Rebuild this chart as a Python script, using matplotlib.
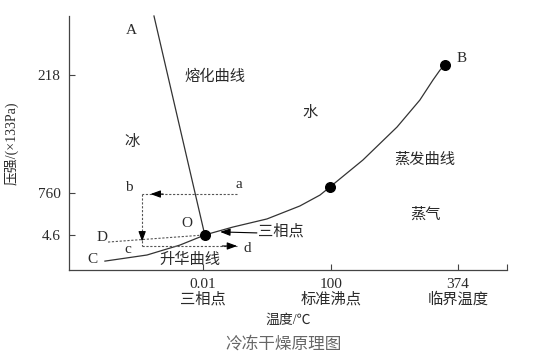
import matplotlib
matplotlib.use("Agg")
import matplotlib.pyplot as plt

plt.rcParams['font.family'] = ['Liberation Serif', 'Noto Sans CJK SC', 'DejaVu Sans']

# ---- data (nominal diagram coordinates, 0..100 on each axis) ----
xtick_pos = [30.6, 59.8, 88.8, 100.0]
xtick_labels = ["0.01\n三相点", "100\n标准沸点", "374\n临界温度", ""]
ytick_pos = [76.8, 30.3, 13.8]
ytick_labels = ["218", "760", "4.6"]

melt_x = [19.4, 31.0]
melt_y = [100.0, 13.8]
evap_x = [31.0, 37.4, 45.2, 52.7, 57.3, 59.6, 67.1, 74.9, 80.1, 83.1, 84.7, 85.8]
evap_y = [13.8, 16.9, 20.1, 25.2, 29.5, 32.7, 43.3, 56.3, 66.9, 74.8, 78.7, 80.7]
subl_x = [8.2, 17.8, 25.3, 29.9, 31.0]
subl_y = [3.5, 5.9, 9.8, 13.0, 13.8]
dots_x = [31.0, 59.6, 85.8]
dots_y = [13.8, 32.7, 80.7]

# dashed path a -> b -> c -> d, and D line
ab_x = [38.4, 16.7]; ab_y = [29.9, 29.9]
bc_x = [16.7, 16.7]; bc_y = [29.9, 9.45]
cd_x = [16.7, 38.4]; cd_y = [9.45, 9.45]
dD_x = [8.9, 31.0]; dD_y = [11.0, 13.8]

labels = [
    ("A", 14.2, 94.1), ("B", 89.7, 83.1), ("C", 5.3, 4.3), ("D", 7.5, 12.6),
    ("a", 38.8, 33.5), ("b", 13.7, 32.3), ("c", 13.5, 7.9), ("d", 40.6, 8.3),
    ("O", 26.9, 18.5),
    ("熔化曲线", 33.3, 76.0), ("冰", 14.4, 50.4), ("水", 55.0, 61.8),
    ("蒸发曲线", 81.3, 43.3), ("蒸气", 81.3, 22.0), ("升华曲线", 27.6, 3.9),
]

ink = "#2a2a2a"

fig = plt.figure(figsize=(5.38, 3.63), dpi=100)
ax = fig.add_axes([69/538, 1-270/363, 438/538, 254/363])
ax.set_xlim(0, 100)
ax.set_ylim(0, 100)

for s in ["top", "right"]:
    ax.spines[s].set_visible(False)
for s in ["left", "bottom"]:
    ax.spines[s].set_color("#444444")
    ax.spines[s].set_linewidth(0.9)

ax.set_xticks(xtick_pos)
ax.set_xticklabels(xtick_labels, fontsize=11, color=ink, linespacing=1.05)
ax.set_yticks(ytick_pos)
ax.set_yticklabels(ytick_labels, fontsize=11, color=ink)
ax.tick_params(direction="in", length=4, width=0.8, color="#444444")
ax.tick_params(axis="x", pad=6)
ax.tick_params(axis="y", pad=6)

ax.set_ylabel("压强/(×133Pa)", fontsize=10, color=ink)
ax.yaxis.set_label_coords(-0.115, 0.5)

# curves
ax.plot(melt_x, melt_y, color="#333333", lw=0.9, clip_on=False)
ax.plot(evap_x, evap_y, color="#333333", lw=0.9)
ax.plot(subl_x, subl_y, color="#333333", lw=0.9)
ax.scatter(dots_x, dots_y, s=48, color="black", zorder=5)

# dashed path
dkw = dict(color="#555555", lw=0.8, ls=(0, (2, 1.5)))
ax.plot(ab_x, ab_y, **dkw)
ax.plot(bc_x, bc_y, **dkw)
ax.plot(cd_x, cd_y, **dkw)
ax.plot(dD_x, dD_y, **dkw)

akw = dict(arrowstyle="-|>,head_length=0.6,head_width=0.22", color="black", lw=0.8,
           shrinkA=0, shrinkB=0)
ax.annotate("", xy=(18.6, 29.9), xytext=(21.5, 29.9), arrowprops=akw)
ax.annotate("", xy=(16.7, 11.2), xytext=(16.7, 14.5), arrowprops=akw)
ax.annotate("", xy=(38.4, 9.45), xytext=(35.0, 9.45), arrowprops=akw)
ax.annotate("", xy=(34.5, 15.0), xytext=(42.9, 14.6), arrowprops=akw)
ax.text(43.2, 15.4, "三相点", fontsize=11, color=ink, ha="left", va="center")

for t, x, y in labels:
    ax.text(x, y, t, fontsize=11, color=ink, ha="center", va="center")

fig.text(288/538, 1-320/363, "温度/℃", fontsize=10, color=ink, ha="center", va="center")
fig.text(284/538, 1-345/363, "冷冻干燥原理图", fontsize=12, color="#666666",
         ha="center", va="center")

fig.savefig("out.png", dpi=100)
